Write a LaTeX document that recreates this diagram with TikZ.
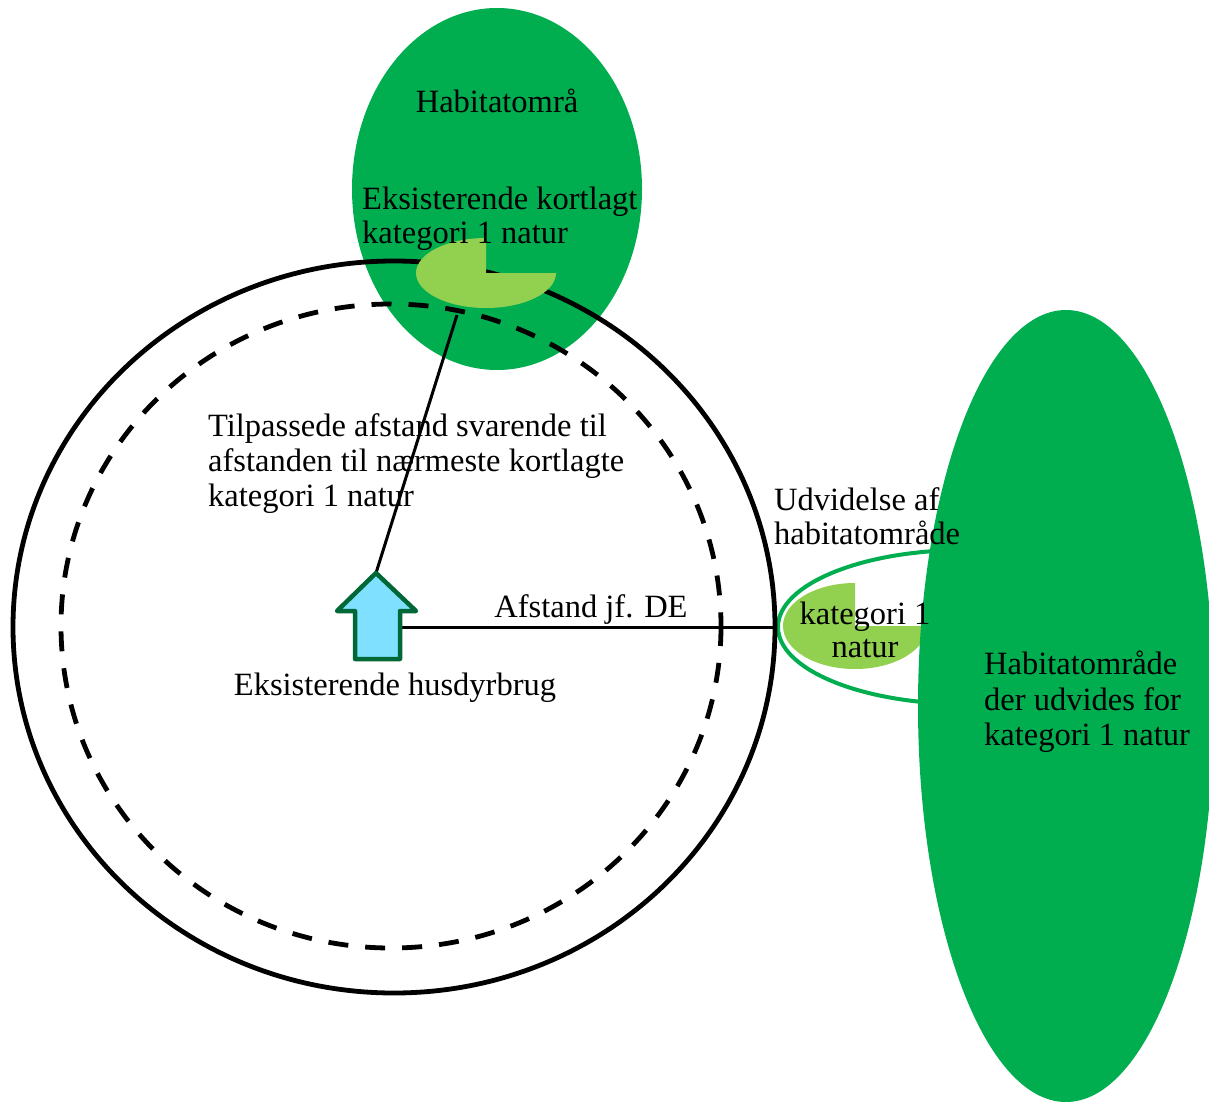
\documentclass[tikz,border=0pt]{standalone}
\usepackage{fontspec}
\setmainfont{Liberation Serif}
\definecolor{hgreen}{RGB}{0,174,80}
\definecolor{lgreen}{RGB}{146,208,80}
\definecolor{hfill}{RGB}{128,224,255}
\definecolor{hstroke}{RGB}{0,104,55}
\begin{document}
\begin{tikzpicture}[x=1pt,y=-1pt,
  lbl/.style={font=\fontsize{32.5}{35}\selectfont, inner sep=0pt, text=black},
  habfill/.style={fill=hgreen},
  piefill/.style={fill=lgreen},
  ring/.style={draw=black, line width=4.8pt},
  dashring/.style={draw=black, line width=4.8pt, dash pattern=on 20pt off 17pt},
  conn/.style={draw=black, line width=3pt},
  housestyle/.style={fill=hfill, draw=hstroke, line width=4.5pt, line join=round}]
\useasboundingbox (0,0) rectangle (1209,1102);
% habitat areas
\fill[habfill] (497,189) ellipse [x radius=145, y radius=181];
\fill[piefill] (855,626) -- (927,626) arc[start angle=0, end angle=270, x radius=72, y radius=43] -- cycle;
\draw[draw=hgreen, line width=4pt] (965,627) ellipse [x radius=187, y radius=77];
\fill[habfill] (1066,706) ellipse [x radius=148, y radius=396];
% distance circles
\draw[ring] (394,627) ellipse [x radius=381, y radius=366];
\draw[dashring] (391,626) ellipse [x radius=330, y radius=322];
% existing category 1 nature
\fill[piefill] (486,273) -- (556,273) arc[start angle=0, end angle=270, x radius=70, y radius=35] -- cycle;
% coordinates
\coordinate (housetip) at (376,573);
\coordinate (houseright) at (400,627);
\coordinate (nearest) at (457,315);
\coordinate (ringedge) at (776,627);
\draw[conn] (housetip) -- (nearest);
\draw[conn] (houseright) -- (ringedge);
% house
\draw[housestyle] (376,573) -- (416,611) -- (400,611) -- (400,659) -- (355,659) -- (355,611) -- (337,611) -- cycle;
% texts
\node[lbl, anchor=base] (habtop) at (497,113) {Habitatområ};
\node[lbl, anchor=base west] (eks1) at (362,209) {Eksisterende kortlagt};
\node[lbl, anchor=base west] (eks2) at (362,243) {kategori 1 natur};
\node[lbl, anchor=base west] (tp1) at (208,436) {Tilpassede afstand svarende til};
\node[lbl, anchor=base west] (tp2) at (208,471) {afstanden til nærmeste kortlagte};
\node[lbl, anchor=base west] (tp3) at (208,506) {kategori 1 natur};
\node[lbl, anchor=base] (afst) at (591,617) {Afstand jf. DE};
\node[lbl, anchor=base] (husd) at (395,695) {Eksisterende husdyrbrug};
\node[lbl, anchor=base west] (udv1) at (774,510) {Udvidelse af};
\node[lbl, anchor=base west] (udv2) at (774,544) {habitatområde};
\node[lbl, anchor=base] (kat1) at (865,624) {kategori 1};
\node[lbl, anchor=base] (kat2) at (865,657) {natur};
\node[lbl, anchor=base west] (hu1) at (984,674) {Habitatområde};
\node[lbl, anchor=base west] (hu2) at (984,710) {der udvides for};
\node[lbl, anchor=base west] (hu3) at (984,745) {kategori 1 natur};
\end{tikzpicture}
\end{document}
